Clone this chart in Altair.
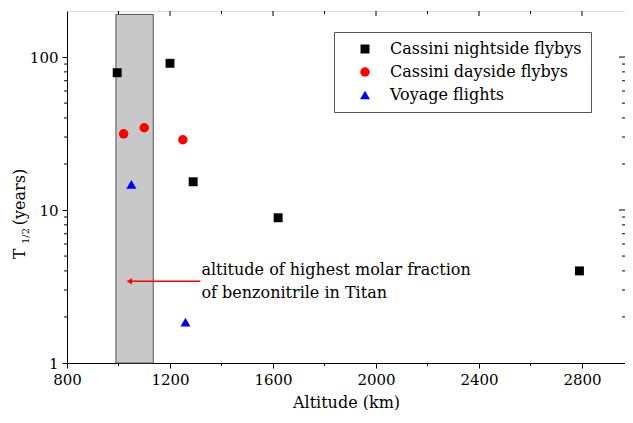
import altair as alt
import pandas as pd

# ---- data ----
night_alt = [995, 1200, 1290, 1620, 2790]
night_t = [79, 91, 15.3, 8.9, 4.0]
day_alt = [1020, 1100, 1250]
day_t = [31.5, 34.5, 28.8]
voy_alt = [1050, 1260]
voy_t = [14.7, 1.85]
series_names = ["Cassini nightside flybys", "Cassini dayside flybys", "Voyage flights"]
series_colors = ["#000000", "#ff0000", "#0000ff"]
series_shapes = ["square", "circle", "triangle-up"]
series_sizes = [80, 100, 120]

band_alt = [990, 1135]
band_t = [1, 190]
arrow_alt = [1050, 1318]
arrow_t = 3.42
note_lines = ["altitude of highest molar fraction", "of benzonitrile in Titan"]
note_alt = 1322
note_t = [4.05, 2.86]

x_major = [800, 1200, 1600, 2000, 2400, 2800]
x_minor = [1000, 1400, 1800, 2200, 2600]
y_major = [1, 10, 100]
y_minor = [2, 3, 4, 5, 6, 7, 8, 9, 20, 30, 40, 50, 60, 70, 80, 90]

W, H = 558, 352
FONT = "DejaVu Serif"
FS = 15

rows = []
for a, t in zip(night_alt, night_t):
    rows.append({"alt": a, "t": t, "series": series_names[0]})
for a, t in zip(day_alt, day_t):
    rows.append({"alt": a, "t": t, "series": series_names[1]})
for a, t in zip(voy_alt, voy_t):
    rows.append({"alt": a, "t": t, "series": series_names[2]})
pts = pd.DataFrame(rows)

xs = alt.Scale(domain=[800, 2967], nice=False, zero=False)
ys = alt.Scale(type="log", domain=[1, 200], nice=False)

band = alt.Chart(pd.DataFrame({"x": [band_alt[0]], "x2": [band_alt[1]],
                               "y": [band_t[0]], "y2": [band_t[1]]})).mark_rect(
    fill="#c8c8c8", stroke="#555555", strokeWidth=1
).encode(
    x=alt.X("x:Q", scale=xs,
            axis=alt.Axis(values=x_major, format="d", title="Altitude (km)",
                          labelFont=FONT, labelFontSize=FS, labelColor="black",
                          titleFont=FONT, titleFontSize=FS + 1, titleFontWeight="normal",
                          titleColor="black", titlePadding=7, tickSize=5,
                          tickColor="black", domainColor="black", grid=False,
                          labelPadding=4, labelFlush=False)),
    x2="x2:Q",
    y=alt.Y("y:Q", scale=ys,
            axis=alt.Axis(values=y_major, format="d", title=None,
                          labelFont=FONT, labelFontSize=FS, labelColor="black",
                          tickSize=5, tickColor="black", domainColor="black",
                          grid=False, labelPadding=4, labelFlush=False)),
    y2="y2:Q",
)

leg = alt.Legend(title=None, orient="none", legendX=267, legendY=21,
                 labelFont=FONT, labelFontSize=FS + 1, labelColor="black")
points = alt.Chart(pts).mark_point(filled=True, opacity=1).encode(
    x=alt.X("alt:Q", scale=xs),
    y=alt.Y("t:Q", scale=ys),
    color=alt.Color("series:N", scale=alt.Scale(domain=series_names, range=series_colors),
                    legend=leg),
    shape=alt.Shape("series:N", scale=alt.Scale(domain=series_names, range=series_shapes),
                    legend=leg),
    size=alt.Size("series:N", scale=alt.Scale(domain=series_names, range=series_sizes),
                  legend=None),
)

arrow_line = alt.Chart(pd.DataFrame({"x": [arrow_alt[0]], "x2": [arrow_alt[1]],
                                     "y": [arrow_t]})).mark_rule(
    color="#ff0000", strokeWidth=1.5
).encode(x=alt.X("x:Q", scale=xs), x2="x2:Q", y=alt.Y("y:Q", scale=ys))

arrow_head = alt.Chart(pd.DataFrame({"x": [arrow_alt[0] - 8], "y": [arrow_t]})).mark_point(
    shape="triangle-left", filled=True, color="#ff0000", size=40, opacity=1
).encode(x=alt.X("x:Q", scale=xs), y=alt.Y("y:Q", scale=ys))

note = alt.Chart(pd.DataFrame({"x": [note_alt] * 2, "y": note_t, "txt": note_lines})).mark_text(
    align="left", baseline="middle", font=FONT, fontSize=FS + 1, color="black"
).encode(x=alt.X("x:Q", scale=xs), y=alt.Y("y:Q", scale=ys), text="txt:N")

# minor / mirrored ticks
def vticks(vals, y0, y1):
    return alt.Chart(pd.DataFrame({"v": vals})).mark_rule(color="black", strokeWidth=1).encode(
        x=alt.X("v:Q", scale=xs), y=alt.value(y0), y2=alt.value(y1))

def hticks(vals, x0, x1):
    return alt.Chart(pd.DataFrame({"v": vals})).mark_rule(color="black", strokeWidth=1).encode(
        y=alt.Y("v:Q", scale=ys), x=alt.value(x0), x2=alt.value(x1))

ticks = [
    vticks(x_minor, H, H + 3),
    vticks(x_major[1:], 0, 5),
    vticks(x_minor, 0, 3),
    hticks(y_minor, 0, -3),
    hticks(y_major[1:], W, W - 6),
    hticks(y_minor, W, W - 3),
]

yt1 = alt.Chart(pd.DataFrame({"txt": ["T"]})).mark_text(angle=270, align="center", baseline="middle",
                                     font=FONT, fontSize=FS + 1, color="black").encode(
    text="txt:N", x=alt.value(-47), y=alt.value(243))
yt2 = alt.Chart(pd.DataFrame({"txt": ["1/2"]})).mark_text(angle=270, align="center", baseline="middle",
                                     font=FONT, fontSize=10, color="black").encode(
    text="txt:N", x=alt.value(-41), y=alt.value(225))
yt3 = alt.Chart(pd.DataFrame({"txt": ["(years)"]})).mark_text(angle=270, align="center", baseline="middle",
                                     font=FONT, fontSize=FS + 1, color="black").encode(
    text="txt:N", x=alt.value(-47), y=alt.value(186))

chart = alt.layer(band, arrow_line, arrow_head, note, *ticks, points, yt1, yt2, yt3).properties(
    width=W, height=H,
    autosize=alt.AutoSizeParams(type="none"),
    padding={"left": 59, "top": 3, "right": 0, "bottom": 47},
).configure_view(stroke="black", strokeWidth=1.2).configure(background="white", font=FONT).configure_legend(
    fillColor="white", strokeColor="#555555", padding=9,
    labelFont=FONT, labelFontSize=FS + 1, labelColor="black",
    symbolSize=90, symbolOffset=14, labelOffset=17, rowPadding=7,
    symbolStrokeWidth=0, labelLimit=300,
)

chart.save("out.html", embed_options={"renderer": "svg", "actions": False})
